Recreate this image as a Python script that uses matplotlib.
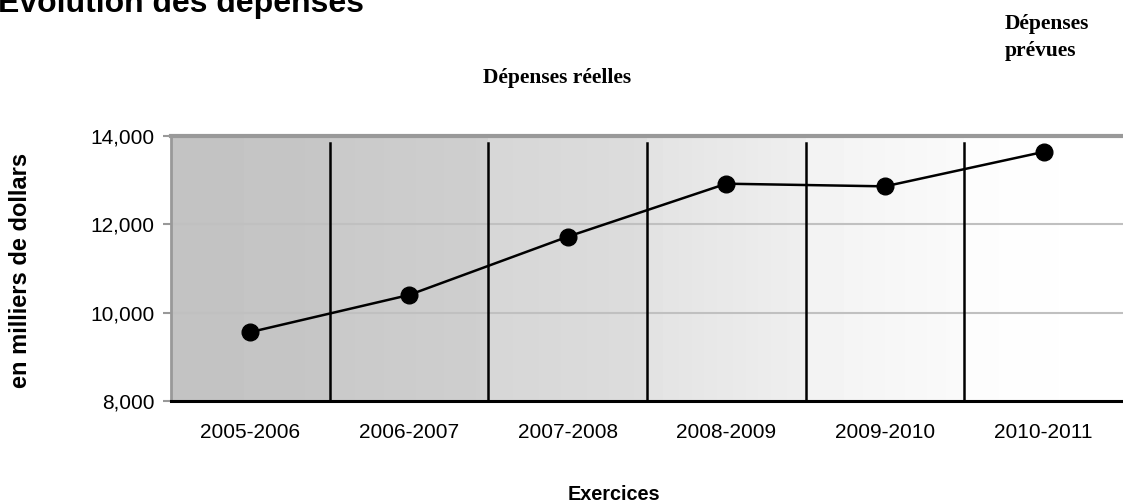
import numpy as np
import matplotlib.pyplot as plt

exercices = ["2005-2006", "2006-2007", "2007-2008", "2008-2009", "2009-2010", "2010-2011"]
depenses = [9560, 10400, 11720, 12920, 12860, 13640]

# grey level at the left / right of each category band
band_left = [0.765, 0.79, 0.84, 0.89, 0.95, 0.99]
band_right = [0.775, 0.81, 0.865, 0.935, 0.98, 1.0]

fig = plt.figure(figsize=(11.23, 5.04), dpi=100)
ax = fig.add_axes([171 / 1123, 1 - 401 / 504, 952 / 1123, 265 / 504])

x = np.arange(len(exercices))
ymin, ymax = 8000, 14000

for i in x:
    grad = np.linspace(band_left[i], band_right[i], 50).reshape(1, -1)
    ax.imshow(grad, cmap="gray", vmin=0, vmax=1, aspect="auto",
              extent=(i - 0.5, i + 0.5, ymin, ymax), zorder=0)

ax.set_xlim(-0.5, len(exercices) - 0.5)
ax.set_ylim(ymin, ymax)

ax.grid(axis="y", color="#c0c0c0", linewidth=1.5, zorder=1)
ax.set_axisbelow(True)
for b in x[:-1] + 0.5:
    ax.axvline(b, ymin=0, ymax=0.973, color="black", linewidth=1.8, zorder=2)

ax.plot(x, depenses, color="black", linewidth=1.8, marker="o", markersize=12, zorder=3)

ax.set_yticks([8000, 10000, 12000, 14000])
ax.set_yticklabels(["{:,}".format(v) for v in [8000, 10000, 12000, 14000]])
ax.set_xticks(x)
ax.set_xticklabels(exercices)
ax.tick_params(axis="y", length=6, width=1.5, color="#999999", pad=6, labelsize=15)
ax.tick_params(axis="x", length=0, pad=16, labelsize=15)
for lab in ax.get_xticklabels() + ax.get_yticklabels():
    lab.set_fontfamily("Liberation Sans")

ax.spines["right"].set_visible(False)
ax.spines["top"].set_color("#999999")
ax.spines["top"].set_linewidth(3)
ax.spines["left"].set_color("#999999")
ax.spines["left"].set_linewidth(2)
ax.spines["bottom"].set_color("black")
ax.spines["bottom"].set_linewidth(2.2)

fig.text(-2 / 1123, 1 - 12 / 504, "Évolution des dépenses", fontsize=23, fontweight="bold",
         family="Liberation Sans", ha="left", va="baseline")
fig.text(557 / 1123, 1 - 83 / 504, "Dépenses réelles", fontsize=15.5, fontweight="bold",
         family="Liberation Serif", ha="center", va="baseline")
fig.text(1005 / 1123, 1 - 14 / 504, "Dépenses\nprévues", fontsize=15.5, fontweight="bold",
         family="Liberation Serif", ha="left", va="top", linespacing=1.45)
fig.text(21 / 1123, 1 - 270 / 504, "en milliers de dollars", fontsize=17, fontweight="bold",
         family="Liberation Sans", rotation=90, ha="center", va="center")
fig.text(614 / 1123, 1 - 494 / 504, "Exercices", fontsize=14.3, fontweight="bold",
         family="Liberation Sans", ha="center", va="center")

fig.savefig("out.png", dpi=100)
